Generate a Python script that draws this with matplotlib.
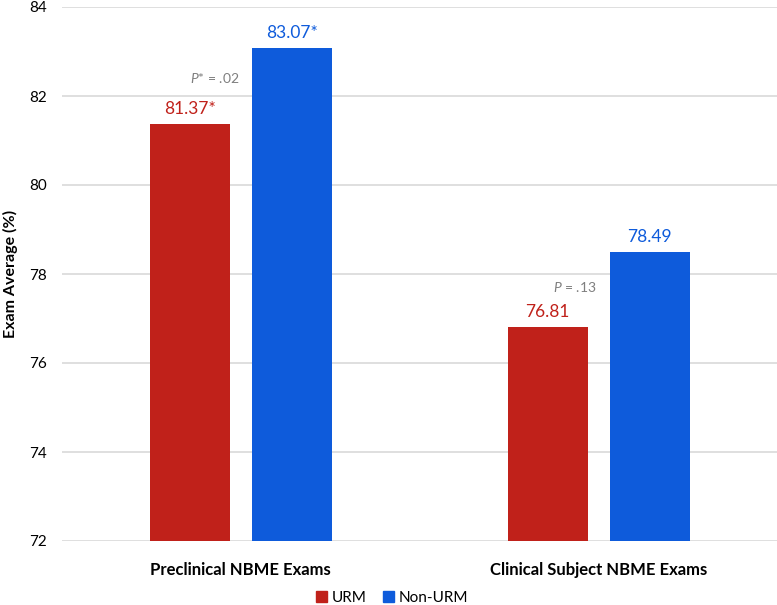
import numpy as np
import matplotlib
matplotlib.use('Agg')
import matplotlib.pyplot as plt
from matplotlib.patches import Patch

categories = ["Preclinical NBME Exams", "Clinical Subject NBME Exams"]
urm = [81.37, 76.81]
non_urm = [83.07, 78.49]
urm_labels = ["81.37*", "76.81"]
non_urm_labels = ["83.07*", "78.49"]
p_text = ["* = .02", " = .13"]
p_ypos = [82.4, 77.7]

red = "#C0211A"
blue = "#0E5BDB"
gray = "#7F7F7F"

plt.rcParams['font.family'] = ['Lato', 'DejaVu Sans']
plt.rcParams['mathtext.fontset'] = 'custom'
plt.rcParams['mathtext.it'] = 'Lato:italic'

fig = plt.figure(figsize=(7.77, 6.05), dpi=100)
ax = fig.add_axes([62 / 777, 1 - 541 / 605, 715.5 / 777, 534 / 605])

x = np.arange(len(categories))
off = 0.1427
w = 0.224
ax.bar(x - off, urm, w, color=red, zorder=3)
ax.bar(x + off, non_urm, w, color=blue, zorder=3)

for i in range(len(categories)):
    ax.annotate(urm_labels[i], (x[i] - off, urm[i]), xytext=(0, 15),
                textcoords='offset pixels', color=red, ha='center', va='center',
                fontsize=12.5)
    ax.annotate(non_urm_labels[i], (x[i] + off, non_urm[i]), xytext=(0, 15),
                textcoords='offset pixels', color=blue, ha='center', va='center',
                fontsize=12.5)
    # p-value note, right edge just left of the group centre
    ax.text(x[i] - 0.005, p_ypos[i], r"$P$" + p_text[i], color=gray,
            ha='right', va='center', fontsize=10)

ax.set_ylim(72, 84)
ax.set_xlim(-0.5, 1.5)
ax.set_yticks(np.arange(72, 85, 2))
ax.set_xticks(x)
ax.set_xticklabels(categories, fontweight='bold', fontsize=12)
ax.tick_params(axis='both', length=0)
ax.tick_params(axis='y', labelsize=11, pad=11)
ax.tick_params(axis='x', pad=15)
ax.grid(axis='y', color='#D9D9D9', linewidth=1.2, zorder=0)
for s in ax.spines.values():
    s.set_visible(False)

fig.text(10 / 777, 1 - 274 / 605, "Exam Average (%)", fontweight='bold', fontsize=11.5,
         rotation=90, ha='center', va='center')

handles = [Patch(color=red, label="URM"), Patch(color=blue, label="Non-URM")]
fig.legend(handles=handles, loc='center', bbox_to_anchor=(392 / 777, 1 - 598 / 605),
           ncol=2, frameon=False, fontsize=11, handlelength=0.7, handleheight=0.7,
           handletextpad=0.3, columnspacing=1.1, borderpad=0)

fig.savefig("out.png", dpi=100)
